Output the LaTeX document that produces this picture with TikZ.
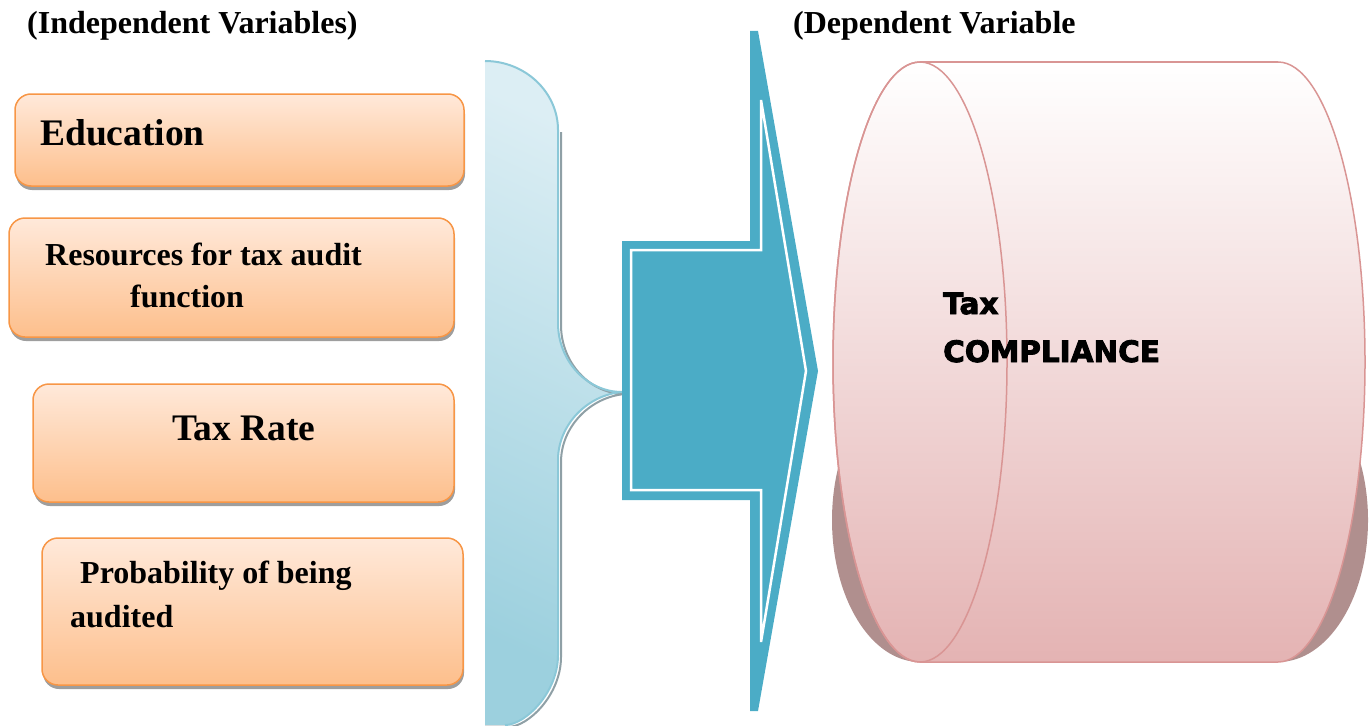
\documentclass[tikz,border=0pt]{standalone}
\usepackage{fontspec}
\setmainfont{Liberation Serif}
\newfontfamily\blackfont{DejaVu Sans Bold}[FakeBold=3]
\usetikzlibrary{shadows}
\definecolor{boxBorder}{HTML}{F79646}
\definecolor{boxTop}{HTML}{FFE9DA}
\definecolor{boxBot}{HTML}{FDBF8C}
\definecolor{braceDark}{HTML}{9CD0DE}
\definecolor{braceLight}{HTML}{DCEEF4}
\definecolor{braceLine}{HTML}{8BC8D8}
\definecolor{braceShadow}{HTML}{8FA0A6}
\definecolor{arrowTeal}{HTML}{4BACC6}
\definecolor{cylLine}{HTML}{D99594}
\definecolor{cylBot}{HTML}{E4B3B3}
\definecolor{cylShadow}{HTML}{B08F8E}
\begin{document}
\begin{tikzpicture}[x=1pt,y=-1pt,
  box/.style={draw=boxBorder, line width=1.5pt, rounded corners=16pt,
    top color=boxTop, bottom color=boxBot, inner sep=0pt,
    drop shadow={shadow xshift=1pt, shadow yshift=-4pt, fill=black!38, opacity=1}},
  lbl/.style={anchor=base west, inner sep=0pt, font=\bfseries\fontsize{32}{38}\selectfont},
  big/.style={anchor=base west, inner sep=0pt, font=\bfseries\fontsize{37.5}{44}\selectfont},
  title/.style={anchor=base west, inner sep=0pt, font=\bfseries\fontsize{32}{38}\selectfont},
  cyltext/.style={anchor=base west, inner sep=0pt, font=\blackfont\fontsize{29.5}{36}\selectfont}]
\useasboundingbox (0,0) rectangle (1372,725);

% brace
\fill[top color=braceLight, bottom color=braceDark, shading angle=-25]
  (485,61) .. controls (525,61) and (558,92) .. (558,130) -- (558,323)
  .. controls (558,361) and (587,392) .. (622,392)
  .. controls (587,395) and (558,425) .. (558,460) -- (558,655)
  .. controls (558,693) and (525,725) .. (505,725) -- (485,725) -- cycle;
\draw[braceShadow, line width=2pt, shift={(3,2)}]
  (558,130) -- (558,323) .. controls (558,361) and (587,392) .. (622,392)
  .. controls (587,395) and (558,425) .. (558,460) -- (558,655)
  .. controls (558,693) and (525,725) .. (505,725);
\draw[braceLine, line width=2pt]
  (485,61) .. controls (525,61) and (558,92) .. (558,130) -- (558,323)
  .. controls (558,361) and (587,392) .. (622,392)
  .. controls (587,395) and (558,425) .. (558,460) -- (558,655)
  .. controls (558,693) and (525,725) .. (505,725);

% arrow
\fill[arrowTeal] (622,241) -- (750,241) -- (750,31) -- (758,31) -- (818,371)
  -- (758,711) -- (750,711) -- (750,500) -- (622,500) -- cycle;
\draw[white, line width=2.5pt, line join=miter] (631,250) -- (761,250) -- (761,100)
  -- (806,371) -- (761,642) -- (761,490) -- (631,490) -- cycle;

% cylinder shadow
\fill[cylShadow] (920,378) -- (1278,378)
  .. controls (1328,378) and (1368,442) .. (1368,520)
  .. controls (1368,598) and (1328,662) .. (1278,662) -- (920,662)
  .. controls (871,662) and (832,598) .. (832,520)
  .. controls (832,442) and (871,378) .. (920,378) -- cycle;
% cylinder
\draw[cylLine, line width=1.5pt, top color=white, bottom color=cylBot]
  (920,62) -- (1278,62)
  .. controls (1326,62) and (1365,196) .. (1365,362)
  .. controls (1365,528) and (1326,662) .. (1278,662) -- (920,662)
  .. controls (872,662) and (833,528) .. (833,362)
  .. controls (833,196) and (872,62) .. (920,62) -- cycle;
\draw[cylLine, line width=1.5pt] (920,362) ellipse [x radius=87pt, y radius=300pt];

% boxes
\node[box, minimum width=449pt, minimum height=92pt] (b1) at (239.5,140) {};
\node[box, minimum width=445pt, minimum height=119pt] (b2) at (231.5,277.5) {};
\node[box, minimum width=421pt, minimum height=118pt] (b3) at (243.5,443) {};
\node[box, minimum width=421pt, minimum height=147pt] (b4) at (252.5,611.5) {};

% texts
\node[title] (it) at (27,34) {(Independent Variables)};
\node[title] (dt) at (793,34) {(Dependent Variable};
\node[big] (t1) at (40,145) {Education};
\node[lbl] (t2a) at (45,265) {Resources for tax audit};
\node[lbl] (t2b) at (130,307) {function};
\node[big] (t3) at (172,440) {Tax Rate};
\node[lbl] (t4a) at (80,583) {Probability of being};
\node[lbl] (t4b) at (70,627) {audited};
\node[cyltext] (tx) at (943,314) {Tax};
\node[cyltext] (cp) at (943,362) {COMPLIANCE};
\end{tikzpicture}
\end{document}
